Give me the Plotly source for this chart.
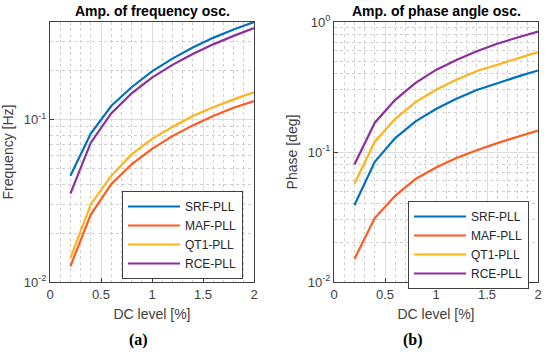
import plotly.graph_objects as go

dc_level = [0.2, 0.4, 0.6, 0.8, 1.0, 1.2, 1.4, 1.6, 1.8, 2.0]
series_names = ["SRF-PLL", "MAF-PLL", "QT1-PLL", "RCE-PLL"]

freq_srf = [0.045, 0.082, 0.121, 0.158, 0.198, 0.237, 0.277, 0.318, 0.358, 0.398]
freq_maf = [0.0125, 0.026, 0.040, 0.053, 0.066, 0.079, 0.092, 0.105, 0.118, 0.130]
freq_qt1 = [0.014, 0.030, 0.045, 0.061, 0.076, 0.090, 0.105, 0.119, 0.133, 0.147]
freq_rce = [0.035, 0.072, 0.109, 0.145, 0.181, 0.217, 0.253, 0.290, 0.327, 0.365]

phase_srf = [0.039, 0.084, 0.128, 0.172, 0.214, 0.257, 0.300, 0.340, 0.380, 0.424]
phase_maf = [0.015, 0.031, 0.046, 0.062, 0.076, 0.090, 0.103, 0.117, 0.131, 0.146]
phase_qt1 = [0.057, 0.120, 0.180, 0.242, 0.301, 0.360, 0.420, 0.470, 0.530, 0.586]
phase_rce = [0.080, 0.168, 0.252, 0.340, 0.428, 0.510, 0.595, 0.680, 0.760, 0.843]

colors = ["#0072BD", "#FF5A1F", "#FFB31A", "#8B2F9C"]

x_ticks = [0, 0.5, 1, 1.5, 2]
x_ticktext = ["0", "0.5", "1", "1.5", "2"]
y_ticks = [0.01, 0.1, 1]
y_ticktext = ["10<sup>-2</sup>", "10<sup>-1</sup>", "10<sup>0</sup>"]
minor_y = [m * d for d in (0.01, 0.1) for m in range(2, 10)]

fig = go.Figure()

freq_data = [freq_srf, freq_maf, freq_qt1, freq_rce]
phase_data = [phase_srf, phase_maf, phase_qt1, phase_rce]

for name, ys, c in zip(series_names, freq_data, colors):
    fig.add_trace(go.Scatter(x=dc_level, y=ys, name=name, mode="lines",
                             line=dict(color=c, width=2.2),
                             xaxis="x", yaxis="y", legend="legend"))
for name, ys, c in zip(series_names, phase_data, colors):
    fig.add_trace(go.Scatter(x=dc_level, y=ys, name=name, mode="lines",
                             line=dict(color=c, width=2.2),
                             xaxis="x2", yaxis="y2", legend="legend2"))

W, H = 550, 364
lx0, lx1 = 50, 254
rx0, rx1 = 334, 538
ytop, ybot = 22, 282

def px(x):
    return x / W

def py(y):
    return 1 - y / H

FONT = "Arial, Liberation Sans, sans-serif"

axis_common = dict(
    showline=True, linecolor="#404040", linewidth=1, mirror=True,
    ticks="inside", ticklen=4, tickcolor="#404040",
    showgrid=True, gridcolor="#dedede", gridwidth=1,
    zeroline=False, automargin=False,
    tickfont=dict(family=FONT, size=13, color="#404040"),
)

xaxis_common = dict(axis_common,
    range=[0, 2], tickvals=x_ticks, ticktext=x_ticktext,
    minor=dict(dtick=0.1, tick0=0, showgrid=True, griddash="dot",
               gridcolor="#d0d0d0", gridwidth=1, ticks=""),
    title=dict(text="DC level [%]", standoff=8,
               font=dict(family=FONT, size=14, color="#404040")),
)

yaxis_common = dict(axis_common,
    type="log", tickvals=y_ticks, ticktext=y_ticktext,
    minor=dict(tickmode="array", tickvals=minor_y, showgrid=True, griddash="dot",
               gridcolor="#d0d0d0", gridwidth=1, ticks=""),
)

legend_common = dict(xanchor="left", yanchor="top",
                     bgcolor="white", bordercolor="#404040", borderwidth=1,
                     font=dict(family=FONT, size=12, color="#262626"),
                     tracegroupgap=0, itemwidth=52)

fig.update_layout(
    width=W, height=H,
    margin=dict(l=0, r=0, t=0, b=0),
    paper_bgcolor="white", plot_bgcolor="white",
    font=dict(family=FONT, color="#404040"),
    xaxis=dict(xaxis_common, domain=[px(lx0), px(lx1)], anchor="y"),
    yaxis=dict(yaxis_common, domain=[py(ybot), py(ytop)], anchor="x",
               range=[-2, -0.4],
               title=dict(text="Frequency [Hz]", standoff=6,
                          font=dict(family=FONT, size=14, color="#404040"))),
    xaxis2=dict(xaxis_common, domain=[px(rx0), px(rx1)], anchor="y2"),
    yaxis2=dict(yaxis_common, domain=[py(ybot), py(ytop)], anchor="x2",
                range=[-2, 0],
                title=dict(text="Phase [deg]", standoff=6,
                           font=dict(family=FONT, size=14, color="#404040"))),
    legend=dict(legend_common, x=px(122), y=py(191)),
    legend2=dict(legend_common, x=px(408), y=py(201)),
    showlegend=True,
)

fig.add_annotation(text="<b>Amp. of frequency osc.</b>", x=px((lx0 + lx1) / 2), y=py(11),
                   xref="paper", yref="paper", showarrow=False,
                   xanchor="center", yanchor="middle",
                   font=dict(family=FONT, size=14, color="#000000"))
fig.add_annotation(text="<b>Amp. of phase angle osc.</b>", x=px((rx0 + rx1) / 2), y=py(11),
                   xref="paper", yref="paper", showarrow=False,
                   xanchor="center", yanchor="middle",
                   font=dict(family=FONT, size=14, color="#000000"))
fig.add_annotation(text="<b>(a)</b>", x=px(138), y=py(340),
                   xref="paper", yref="paper", showarrow=False,
                   xanchor="center", yanchor="middle",
                   font=dict(family="Liberation Serif, Times New Roman, serif", size=16, color="#000000"))
fig.add_annotation(text="<b>(b)</b>", x=px(413), y=py(340),
                   xref="paper", yref="paper", showarrow=False,
                   xanchor="center", yanchor="middle",
                   font=dict(family="Liberation Serif, Times New Roman, serif", size=16, color="#000000"))

fig.write_html("out.html",
               config={"displayModeBar": False},
               post_script="document.body.style.margin='0';document.body.style.overflow='hidden';")
